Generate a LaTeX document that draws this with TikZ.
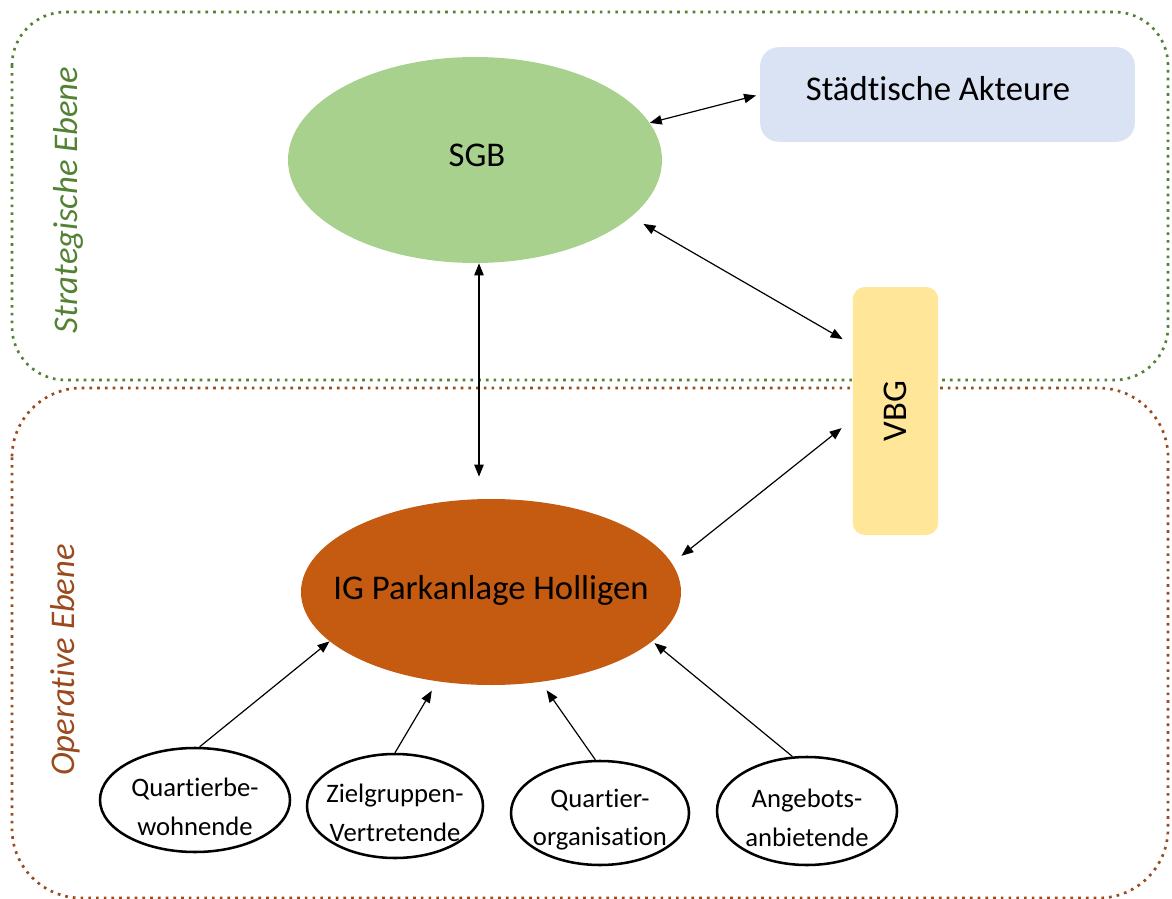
\documentclass[tikz,border=0pt]{standalone}
\usepackage{fontspec}
\setmainfont{Carlito}[Ligatures=NoCommon, RawFeature=-liga, RawFeature=-calt, RawFeature=-clig, RawFeature=-dlig]
\usetikzlibrary{arrows.meta,shapes.geometric}
\definecolor{sgbgreen}{HTML}{A9D18E}
\definecolor{stratgreen}{HTML}{548235}
\definecolor{opbrown}{HTML}{9A4A1C}
\definecolor{igorange}{HTML}{C55A11}
\definecolor{stadtblue}{HTML}{DAE3F3}
\definecolor{vbgyellow}{HTML}{FFE699}
\tikzset{
	ebene/.style={rounded corners=#1, line width=2pt, dash pattern=on 2pt off 3.8pt},
	ebenetext/.style={rotate=90, font=\fontsize{26}{30}\selectfont\itshape},
	grosstext/.style={font=\fontsize{26}{30}\selectfont},
	akteur/.style={ellipse, draw, line width=1.9pt, inner sep=0pt, minimum height=78pt},
	akteurtext/.style={align=center, yshift=-5pt, font=\fontsize{20}{29}\selectfont},
	link/.style={{Triangle[length=9pt,width=7pt]}-{Triangle[length=9pt,width=7pt]}, line width=0.9pt},
	feed/.style={-{Triangle[length=9pt,width=7pt]}, line width=0.9pt}
}

\begin{document}
\begin{tikzpicture}[x=0.75pt, y=-0.75pt]
			%%%%% START %%%%%
			\clip (0, 0) rectangle (1172, 899);
			
			\draw[ebene=40pt, stratgreen] (12, 12) rectangle (1168, 380);
			\draw[ebene=52pt, opbrown] (12, 388) rectangle (1168, 898);
			\node[ebenetext, stratgreen] (strat) at (68, 200) {Strategische Ebene};
			\node[ebenetext, opbrown] (oper) at (65, 660) {Operative Ebene};
			
			\node[ellipse, fill=sgbgreen, inner sep=0pt, minimum width=280.5pt, minimum height=154.5pt] (sgb) at (475, 160) {};
			\node[grosstext] (sgb-t) at (477, 155) {SGB};
			\node[rounded corners=14pt, fill=stadtblue, minimum width=281pt, minimum height=71pt] (stadt) at (947.5, 94.5) {};
			\node[grosstext] (stadt-t) at (938, 89) {Städtische Akteure};
			\node[rounded corners=9pt, fill=vbgyellow, minimum width=64pt, minimum height=186pt] (vbg) at (895.5, 411) {};
			\node[grosstext, rotate=90] (vbg-t) at (vbg.center) {VBG};
			
			\node[ellipse, fill=igorange, inner sep=0pt, minimum width=285pt, minimum height=139.5pt] (ig) at (491, 592) {};
			\node[grosstext] (ig-t) at (491, 590) {IG Parkanlage Holligen};
			
			\node[akteur, minimum width=142.5pt] (bewohnende) at (195, 800) {};
			\node[akteur, minimum width=132pt] (zielgruppen) at (395, 806) {};
			\node[akteur, minimum width=133.5pt] (quartierorg) at (600, 813) {};
			\node[akteur, minimum width=135pt, minimum height=81pt] (angebote) at (807, 811) {};
			\node[akteurtext] (bewohnende-t) at (bewohnende) {Quartierbe-\\wohnende};
			\node[akteurtext] (zielgruppen-t) at (zielgruppen) {Zielgruppen-\\Vertretende};
			\node[akteurtext] (quartierorg-t) at (quartierorg) {Quartier-\\organisation};
			\node[akteurtext] (angebote-t) at (angebote) {Angebots-\\anbietende};
			
			\draw[link, shorten >=3pt] (sgb.12) -- (stadt.west);
			\draw[link, shorten <=10.5pt, shorten >=8.6pt] (sgb.-20) -- (vbg.123);
			\draw[link, shorten >=16.5pt] ([xshift=3pt]sgb.south) -- ([xshift=3pt]sgb.south |- ig.north);
			\draw[link, shorten <=9pt, shorten >=10.5pt] (ig.9) -- (vbg.191);
			
			\draw[feed] (bewohnende.85) -- (ig.197);
			\draw[feed, shorten >=8pt] (zielgruppen.north) -- (ig.239);
			\draw[feed, shorten >=7.5pt] (quartierorg.95) -- (ig.299);
			\draw[feed, shorten >=2pt] (angebote.105) -- (ig.343);
			
			%%%%% END %%%%%
		\end{tikzpicture}
\end{document}
